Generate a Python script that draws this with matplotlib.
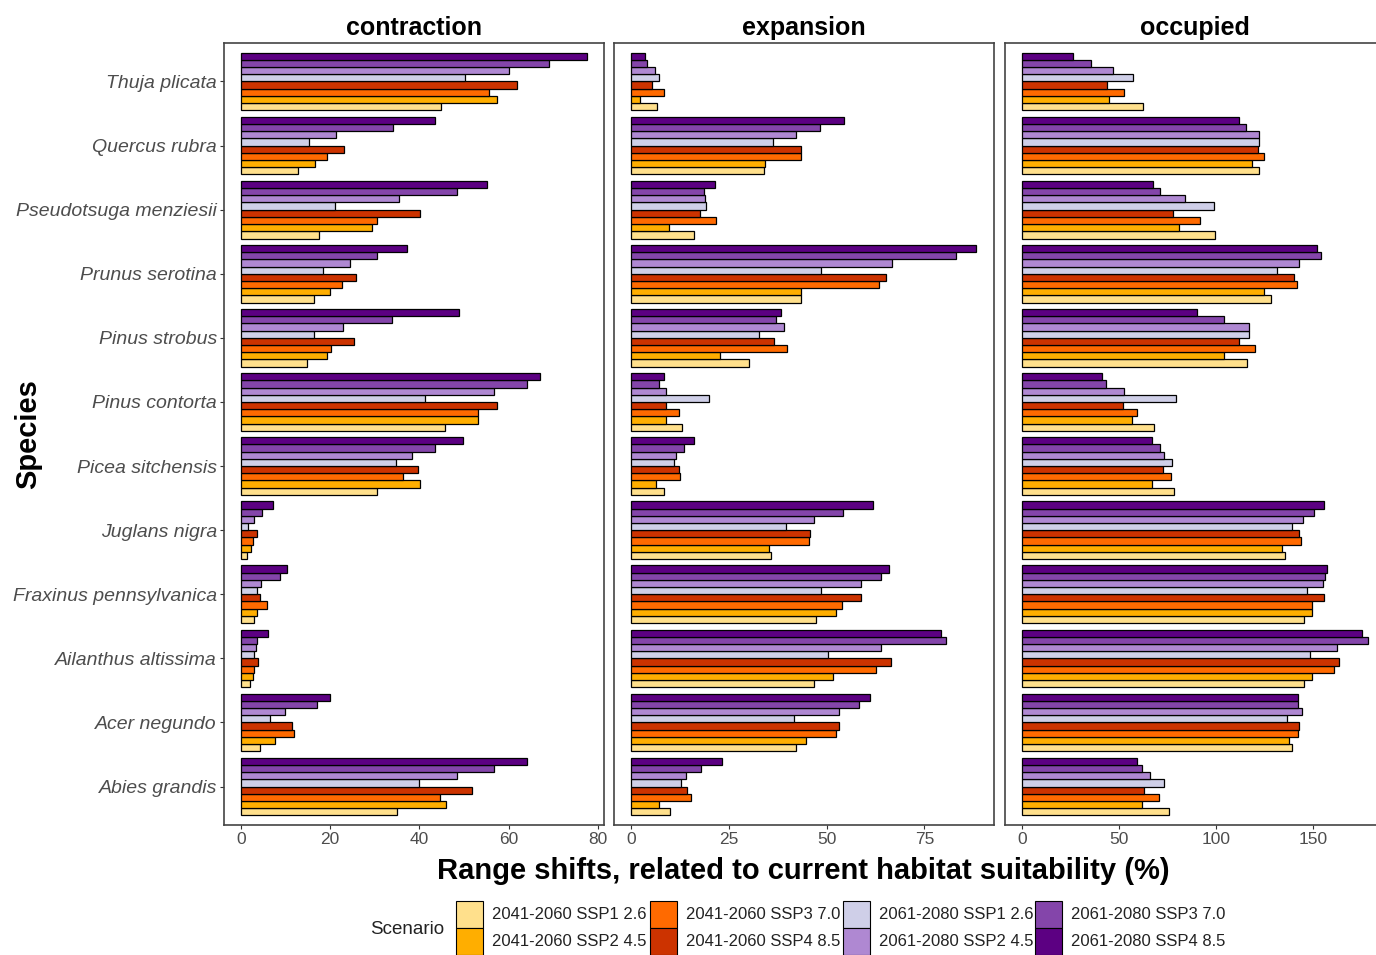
import numpy as np
import matplotlib.pyplot as plt
from matplotlib.patches import Rectangle

plt.rcParams['font.family'] = ['Liberation Sans', 'DejaVu Sans']

# species, top to bottom as shown
species = ["Thuja plicata", "Quercus rubra", "Pseudotsuga menziesii", "Prunus serotina",
           "Pinus strobus", "Pinus contorta", "Picea sitchensis", "Juglans nigra",
           "Fraxinus pennsylvanica", "Ailanthus altissima", "Acer negundo", "Abies grandis"]

scenarios = ["2041-2060 SSP1 2.6", "2041-2060 SSP2 4.5", "2041-2060 SSP3 7.0", "2041-2060 SSP4 8.5",
             "2061-2080 SSP1 2.6", "2061-2080 SSP2 4.5", "2061-2080 SSP3 7.0", "2061-2080 SSP4 8.5"]
colors = ["#FFE08C", "#FFAE00", "#FF6A00", "#CC3300",
          "#CFCFE8", "#AF88D2", "#8445AA", "#5C0082"]

# values per species (rows) and scenario (columns), in %
contraction = [
    [44.8, 57.5, 55.7, 61.8, 50.3, 60.0, 69.1, 77.5],
    [12.7, 16.5, 19.4, 23.2, 15.3, 21.2, 34.0, 43.6],
    [17.6, 29.4, 30.5, 40.1, 21.1, 35.5, 48.4, 55.1],
    [16.4, 20.0, 22.7, 25.7, 18.3, 24.4, 30.4, 37.2],
    [14.9, 19.2, 20.3, 25.3, 16.4, 22.9, 33.9, 49.0],
    [45.8, 53.1, 53.1, 57.4, 41.2, 56.8, 64.1, 67.0],
    [30.4, 40.2, 36.4, 39.6, 34.8, 38.4, 43.4, 49.7],
    [1.3, 2.2, 2.6, 3.7, 1.5, 3.0, 4.8, 7.2],
    [3.0, 3.6, 5.8, 4.2, 3.5, 4.6, 8.8, 10.3],
    [2.1, 2.8, 3.0, 3.9, 3.0, 3.4, 3.7, 6.0],
    [4.3, 7.6, 11.9, 11.5, 6.6, 9.8, 17.1, 20.0],
    [35.0, 46.0, 44.7, 51.8, 40.0, 48.4, 56.8, 64.2],
]
expansion = [
    [6.8, 2.3, 8.4, 5.3, 7.2, 6.1, 4.2, 3.6],
    [34.0, 34.4, 43.5, 43.5, 36.4, 42.2, 48.4, 54.5],
    [16.1, 9.8, 21.8, 17.6, 19.1, 18.9, 18.7, 21.5],
    [43.5, 43.5, 63.3, 65.2, 48.7, 66.7, 83.2, 88.3],
    [30.3, 22.7, 39.8, 36.7, 32.7, 39.1, 37.1, 38.4],
    [13.2, 9.1, 12.2, 9.1, 20.0, 9.1, 7.2, 8.4],
    [8.4, 6.4, 12.5, 12.2, 11.0, 11.6, 13.5, 16.1],
    [35.9, 35.2, 45.4, 45.8, 39.7, 46.7, 54.1, 61.8],
    [47.3, 52.4, 53.9, 58.9, 48.6, 58.9, 63.9, 66.0],
    [46.7, 51.6, 62.6, 66.4, 50.5, 64.0, 80.6, 79.3],
    [42.2, 44.8, 52.4, 53.1, 41.6, 53.1, 58.4, 61.2],
    [9.9, 7.2, 15.5, 14.4, 12.7, 14.2, 18.0, 23.4],
]
occupied = [
    [62.6, 45.1, 52.8, 43.7, 57.4, 46.8, 35.5, 26.2],
    [122.2, 118.6, 124.8, 121.4, 122.2, 122.2, 115.4, 111.8],
    [99.4, 81.1, 91.7, 78.0, 98.9, 84.0, 71.1, 67.4],
    [128.1, 124.8, 141.5, 140.1, 131.2, 142.8, 153.8, 152.1],
    [116.1, 104.2, 120.0, 111.9, 117.1, 117.1, 104.2, 90.0],
    [68.1, 56.6, 59.2, 51.9, 79.4, 52.8, 43.2, 41.2],
    [78.3, 67.2, 76.6, 72.9, 77.2, 73.2, 71.1, 67.2],
    [135.4, 134.1, 143.7, 142.8, 138.9, 144.5, 150.4, 155.7],
    [145.4, 149.5, 149.5, 155.7, 146.6, 155.1, 156.0, 156.9],
    [145.2, 149.5, 160.8, 163.4, 148.3, 162.0, 178.0, 174.9],
    [138.9, 137.5, 142.0, 142.6, 136.6, 144.3, 142.0, 142.0],
    [75.8, 61.7, 70.8, 63.1, 73.4, 66.0, 61.7, 59.5],
]

panels = [
    ("contraction", contraction, [0, 20, 40, 60, 80], (-3.8, 81.4)),
    ("expansion", expansion, [0, 25, 50, 75], (-4.3, 92.8)),
    ("occupied", occupied, [0, 50, 100, 150], (-8.6, 186.9)),
]

W, H = 1376, 955
fig = plt.figure(figsize=(W / 100, H / 100), dpi=100)

lefts = [224, 614, 1005]
pw = 380
top, bottom = 43, 825

n_sp = len(species)
n_sc = len(scenarios)
ypos = np.arange(n_sp, 0, -1)  # top species at highest y
bh = 0.9 / n_sc

for k, (name, vals, ticks, xl) in enumerate(panels):
    ax = fig.add_axes([lefts[k] / W, 1 - bottom / H, pw / W, (bottom - top) / H])
    vals = np.array(vals)
    for j in range(n_sc):
        offs = -0.45 + bh * (j + 0.5)
        ax.barh(ypos + offs, vals[:, j], height=bh, color=colors[j],
                edgecolor='black', linewidth=0.9)
    ax.set_xlim(*xl)
    ax.set_ylim(0.4, n_sp + 0.6)
    ax.set_xticks(ticks)
    ax.tick_params(axis='x', direction='out', length=3, width=0.8, color='#333333',
                   labelsize=12.5, labelcolor='#4D4D4D', pad=2)
    if k == 0:
        ax.set_yticks(ypos)
        ax.set_yticklabels(species, fontsize=14, style='italic', color='#4D4D4D')
        ax.tick_params(axis='y', direction='out', length=3, width=0.8, color='#333333', pad=2)
    else:
        ax.set_yticks([])
    for sp in ax.spines.values():
        sp.set_color('#444444')
        sp.set_linewidth(1.2)
    ax.set_title(name, fontsize=18, fontweight='bold', pad=6)

fig.text(803 / W, 1 - 871 / H, "Range shifts, related to current habitat suitability (%)",
         ha='center', va='center', fontsize=21, fontweight='bold')
fig.text(28 / W, 1 - 434 / H, "Species", rotation=90, ha='center', va='center',
         fontsize=21, fontweight='bold')

# legend, drawn by hand so the keys sit on top of the long labels
fig.text(407 / W, 1 - 929 / H, "Scenario", ha='center', va='center', fontsize=13.5,
         color='#222222')
col_x = [456, 650, 843, 1035]
row_y = [901, 928]
ks = 27
for j, (lab, c) in enumerate(zip(scenarios, colors)):
    cx = col_x[j // 2]
    ry = row_y[j % 2]
    fig.text((cx + ks + 9) / W, 1 - (ry + ks / 2) / H, lab, ha='left', va='center',
             fontsize=12, color='#222222', zorder=1)
    fig.patches.append(Rectangle((cx / W, 1 - (ry + ks) / H), ks / W, ks / H,
                                 transform=fig.transFigure, facecolor=c,
                                 edgecolor='black', linewidth=0.8, zorder=5))

fig.savefig("out.png", dpi=100)
